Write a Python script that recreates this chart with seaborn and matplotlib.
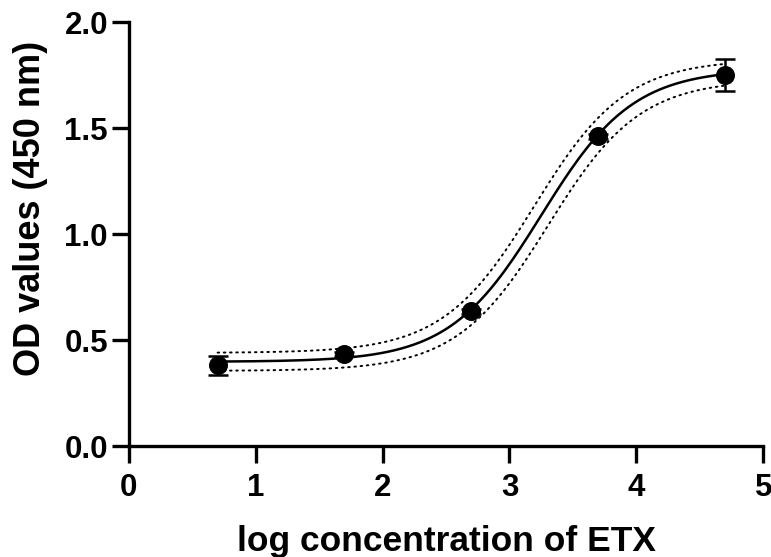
import numpy as np
import pandas as pd
import matplotlib
matplotlib.use("Agg")
import matplotlib.pyplot as plt
import seaborn as sns

# Mean OD values (450 nm) per log concentration
log_conc = [0.7, 1.7, 2.7, 3.7, 4.7]
od_mean = [0.382, 0.434, 0.637, 1.462, 1.750]
od_err = [0.045, 0.010, 0.012, 0.012, 0.075]

# 4-parameter logistic fit: bottom, top, logEC50, hill slope
fit_params = [0.398, 1.780, 3.25, 1.20]
# 95% band limits as shifted fits
upper_params = [0.440, 1.825, 3.195, 1.20]
lower_params = [0.355, 1.730, 3.305, 1.20]


def four_pl(x, p):
    b, t, c, h = p
    return b + (t - b) / (1 + 10 ** ((c - x) * h))


sns.set_style("ticks")
plt.rcParams["font.family"] = ["Liberation Sans", "DejaVu Sans"]
plt.rcParams["font.weight"] = "bold"
plt.rcParams["text.color"] = "black"
plt.rcParams["axes.labelcolor"] = "black"
plt.rcParams["xtick.color"] = "black"
plt.rcParams["ytick.color"] = "black"

fig, ax = plt.subplots(figsize=(7.71, 5.57), dpi=100)

xs = np.linspace(log_conc[0], log_conc[-1], 300)
curves = pd.DataFrame({"x": xs,
                       "fit": four_pl(xs, fit_params),
                       "upper": four_pl(xs, upper_params),
                       "lower": four_pl(xs, lower_params)})

sns.lineplot(data=curves, x="x", y="fit", color="black", lw=1.8, ax=ax)
for col in ["upper", "lower"]:
    sns.lineplot(data=curves, x="x", y=col, color="black", lw=1.4,
                 linestyle=(0, (0.8, 2.4)), dash_capstyle="round", ax=ax)

ax.errorbar(log_conc, od_mean, yerr=od_err, fmt="none", ecolor="black",
            elinewidth=1.8, capsize=7, capthick=1.8, zorder=3)
pts = pd.DataFrame({"x": log_conc, "y": od_mean})
sns.scatterplot(data=pts, x="x", y="y", color="black", s=160,
                edgecolor="black", zorder=4, ax=ax)

ax.set_xlim(0, 5)
ax.set_ylim(0, 2.0)
ax.set_xticks([0, 1, 2, 3, 4, 5])
ax.set_yticks([0.0, 0.5, 1.0, 1.5, 2.0])
ax.set_yticklabels(["0.0", "0.5", "1.0", "1.5", "2.0"])
ax.set_xlabel("log concentration of ETX", fontsize=25.5, fontweight="bold", labelpad=16)
ax.set_ylabel("OD values (450 nm)", fontsize=26, fontweight="bold")
ax.yaxis.set_label_coords(-0.128, 0.56)
ax.tick_params(labelsize=22.5, width=2.4, length=12, color="black")
ax.tick_params(axis="x", pad=7)
ax.tick_params(axis="y", pad=3)
for lbl in ax.get_xticklabels() + ax.get_yticklabels():
    lbl.set_fontweight("bold")
sns.despine(ax=ax)
for side in ["left", "bottom"]:
    ax.spines[side].set_linewidth(2.4)
    ax.spines[side].set_color("black")

fig.subplots_adjust(left=0.167, right=0.99, bottom=0.199, top=0.96)
fig.savefig("out.png", dpi=100)
